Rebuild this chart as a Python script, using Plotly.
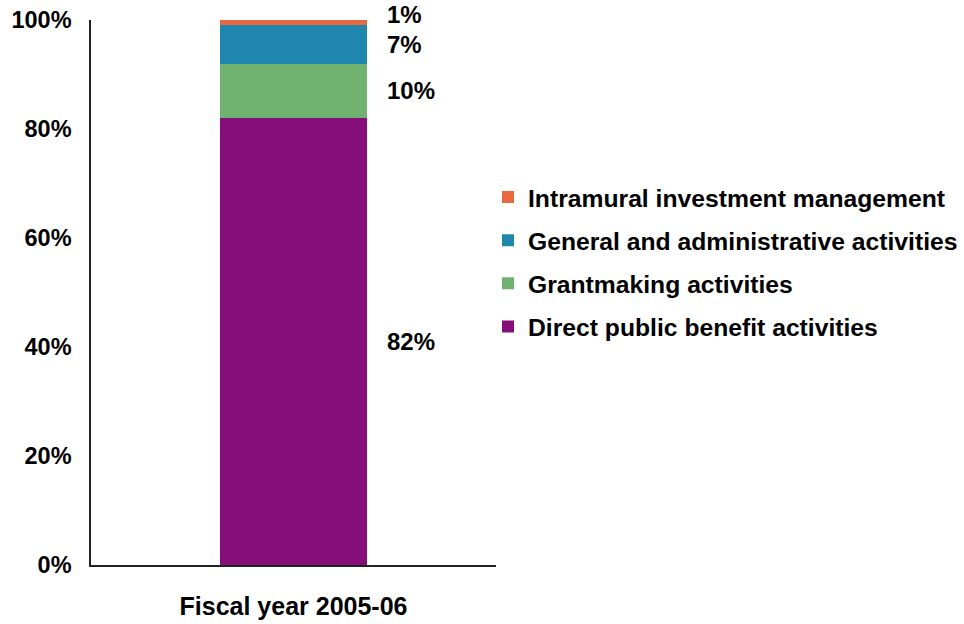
import plotly.graph_objects as go

category = ["Fiscal year 2005-06"]
series_names = [
    "Direct public benefit activities",
    "Grantmaking activities",
    "General and administrative activities",
    "Intramural investment management",
]
series_values = [82, 10, 7, 1]
series_colors = ["#850E7A", "#70B26F", "#1F87AE", "#E8683F"]
y_ticks = [0, 20, 40, 60, 80, 100]

FONT = "Liberation Sans, Arial, sans-serif"

fig = go.Figure()
n = len(series_names)
for i, (name, val, col) in enumerate(zip(series_names, series_values, series_colors)):
    fig.add_trace(go.Bar(
        x=category, y=[val], name=name,
        marker=dict(color=col, line=dict(width=0)),
        width=0.364, legendgroup=f"g{i}", legendrank=n - i,
    ))

annotations = []
cum = 0
for i, val in enumerate(series_values):
    mid = cum + val / 2
    cum += val
    annotations.append(dict(
        x=(385 - 91) / 405, xref="paper", y=mid, yref="y",
        text=f"<b>{val}%</b>", showarrow=False, xanchor="left", yanchor="middle",
        yshift=8 if val < 3 else 0,
        font=dict(family=FONT, size=24, color="#000"),
    ))

fig.update_layout(
    width=964, height=624,
    margin=dict(l=91, r=468, t=20, b=59, autoexpand=False),
    paper_bgcolor="white", plot_bgcolor="white",
    barmode="stack", bargap=0,
    showlegend=True,
    legend=dict(
        traceorder="grouped", tracegroupgap=8,
        xref="container", yref="container",
        x=488 / 964, y=1 - 262 / 624, xanchor="left", yanchor="middle",
        font=dict(family=FONT, size=24.7, color="#000", weight="bold"),
        itemwidth=30, bgcolor="rgba(0,0,0,0)",
    ),
    annotations=annotations,
    font=dict(family=FONT, size=24, color="#000"),
)
fig.update_xaxes(
    range=[-0.5, 0.5], showline=True, linecolor="#222", linewidth=1.5,
    showgrid=False, ticks="", ticklabelstandoff=18, automargin=False,
    tickfont=dict(family=FONT, size=25, color="#000", weight="bold"),
)
fig.update_yaxes(
    range=[0, 100], tickvals=y_ticks, ticktext=[f"{v}%" for v in y_ticks],
    showline=True, linecolor="#222", linewidth=1.5, showgrid=False,
    zeroline=False, ticks="", ticklabelstandoff=13, automargin=False,
    tickfont=dict(family=FONT, size=23.5, color="#000", weight="bold"),
)

fig.write_html("out.html")
